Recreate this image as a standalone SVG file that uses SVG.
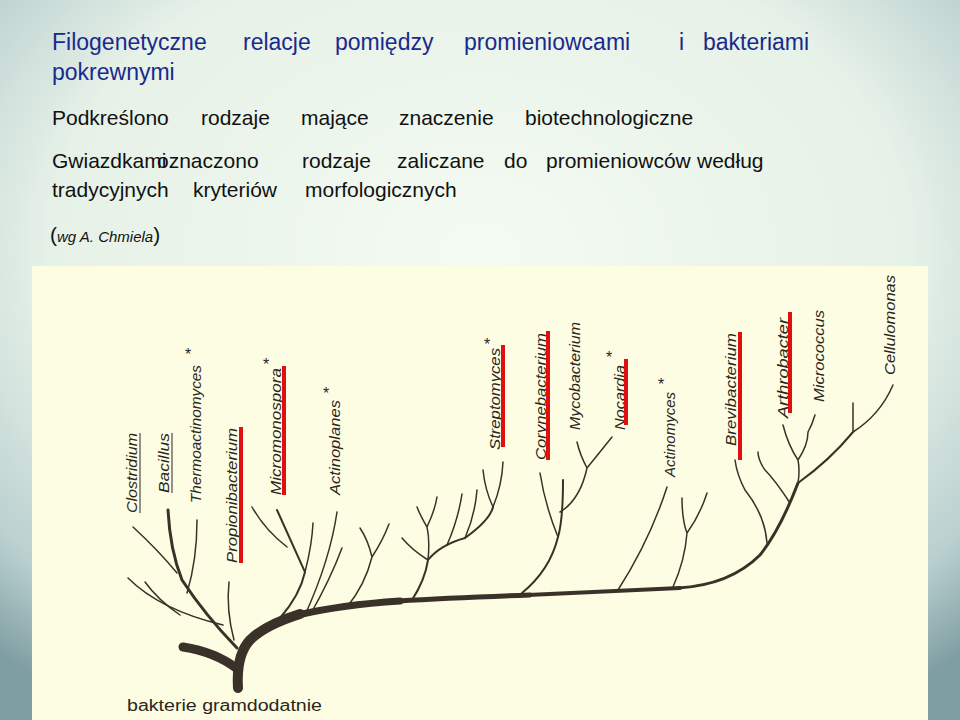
<svg xmlns="http://www.w3.org/2000/svg" width="960" height="720" viewBox="0 0 960 720">
<defs>
<radialGradient id="bg" cx="0.5" cy="0.35" r="0.75">
<stop offset="0" stop-color="#f4fbf2"/><stop offset="0.6" stop-color="#e6f1e8"/><stop offset="0.85" stop-color="#b9cfcf"/><stop offset="1" stop-color="#7f9ea2"/>
</radialGradient>
<style>
.t{font-family:"Liberation Sans",Arial,sans-serif;font-size:21px;fill:#111}
.h{font-family:"Liberation Sans",Arial,sans-serif;font-size:23px;fill:#1a2a8c}
.g{font-family:"Liberation Sans",Arial,sans-serif;font-style:italic;font-size:15px;fill:#2a2620}
.b{fill:none;stroke:#3a3128;stroke-width:1.5;stroke-linecap:round}
.m{fill:none;stroke:#3a3128;stroke-linecap:round}
.r{stroke:#e01010;stroke-width:4}
.u{stroke:#2a2620;stroke-width:1}
.s{font-family:"Liberation Sans",Arial,sans-serif;font-size:16px;fill:#2a2620}
</style>
</defs>
<rect width="960" height="720" fill="url(#bg)"/>
<rect x="32" y="266" width="896" height="454" fill="#fdfde3"/>
<g id="header">
<text class="h" y="50"><tspan x="52">Filogenetyczne</tspan><tspan x="243">relacje</tspan><tspan x="335">pomiędzy</tspan><tspan x="464">promieniowcami</tspan><tspan x="679">i</tspan><tspan x="703">bakteriami</tspan></text>
<text class="h" x="52" y="80">pokrewnymi</text>
<text class="t" y="125"><tspan x="52">Podkreślono</tspan><tspan x="201">rodzaje</tspan><tspan x="301">mające</tspan><tspan x="399">znaczenie</tspan><tspan x="525">biotechnologiczne</tspan></text>
<text class="t" y="168"><tspan x="52">Gwiazdkami</tspan><tspan x="157">oznaczono</tspan><tspan x="302">rodzaje</tspan><tspan x="397">zaliczane</tspan><tspan x="504">do</tspan><tspan x="546">promieniowców</tspan><tspan x="697">według</tspan></text>
<text class="t" y="197"><tspan x="52">tradycyjnych</tspan><tspan x="193">kryteriów</tspan><tspan x="305">morfologicznych</tspan></text>
<text class="t" x="50" y="242" font-size="23">(<tspan font-style="italic" font-size="15">wg A. Chmiela</tspan>)</text>
</g>
<g id="connectors">
<path class="m" stroke-width="9" d="M183 647 Q215 652 236 668"/>
<path class="m" stroke-width="10" d="M238 688 Q236 655 250 640 Q265 625 300 614"/>
<path class="m" stroke-width="7" d="M298 615 Q340 605 400 601"/>
<path class="m" stroke-width="5" d="M398 601 Q450 598 530 595"/>
<path class="m" stroke-width="4" d="M528 595 Q600 592 680 588"/>
<path class="m" stroke-width="3" d="M678 588 Q730 585 760 555 Q780 530 798 483"/>
<path class="m" stroke-width="3" d="M237 648 Q205 615 182 580 Q170 550 168 510"/>
<path class="b" d="M177 573 Q158 550 133 527"/>
<path class="b" d="M187 593 Q197 560 197 520"/>
<path class="b" d="M223 625 Q160 610 128 578"/>
<path class="b" d="M180 615 Q158 600 145 582"/>
<path class="b" d="M234 640 Q226 610 229 582"/>
<path class="m" stroke-width="2" d="M280 618 Q300 595 305 572 Q295 550 277 510"/>
<path class="b" d="M287 547 Q265 530 252 507"/>
<path class="b" d="M305 572 Q312 545 313 523"/>
<path class="b" d="M310 615 Q330 580 342 548"/>
<path class="b" d="M305 615 Q330 560 337 512"/>
<path class="b" d="M347 607 Q365 585 372 557 Q368 540 360 528 M372 557 Q383 540 389 524"/>
<path class="m" stroke-width="2" d="M412 600 Q425 580 428 560 Q440 545 465 538 Q490 520 493 507"/>
<path class="b" d="M428 560 Q412 550 402 538 M428 560 Q430 540 427 527 Q420 515 417 507 M427 527 Q435 510 437 497"/>
<path class="b" d="M447 545 Q458 520 462 494 M465 538 Q475 515 477 490 M493 507 Q485 490 483 470 M493 507 Q502 485 503 462"/>
<path class="m" stroke-width="2" d="M522 593 Q550 570 558 537 Q563 520 563 480"/>
<path class="b" d="M558 537 Q545 505 540 473 M560 512 Q580 500 587 468 Q580 455 577 442 M587 468 Q600 452 612 437"/>
<path class="b" d="M618 590 Q650 540 667 487"/>
<path class="b" d="M673 587 Q685 560 687 533 Q682 520 682 498 M687 533 Q700 515 707 493"/>
<path class="b" d="M767 543 Q765 515 745 490 Q737 475 735 460 M790 503 Q775 480 765 470 Q758 460 758 452"/>
<path class="b" d="M798 483 Q800 470 798 460 Q788 445 783 425 M798 460 Q808 445 808 432 Q812 425 815 415"/>
<path class="m" stroke-width="2" d="M798 483 Q830 460 853 432"/>
<path class="b" d="M853 432 Q853 420 853 403 M853 432 Q880 415 893 385"/>
</g>
<g id="labels">
<g id="clostridium"><text class="g" transform="translate(137 513) rotate(-90)" textLength="80" lengthAdjust="spacingAndGlyphs">Clostridium</text><line class="u" x1="140" y1="513" x2="140" y2="433"/></g>
<g id="bacillus"><text class="g" transform="translate(169 493) rotate(-90)" textLength="60" lengthAdjust="spacingAndGlyphs">Bacillus</text><line class="u" x1="172" y1="493" x2="172" y2="433"/></g>
<g id="thermoactinomyces"><text class="g" transform="translate(201 503) rotate(-90)" textLength="138" lengthAdjust="spacingAndGlyphs">Thermoactinomyces</text><text class="s" x="185" y="360">*</text></g>
<g id="propionibacterium"><text class="g" transform="translate(237 563) rotate(-90)" textLength="135" lengthAdjust="spacingAndGlyphs">Propionibacterium</text><line class="r" x1="241" y1="427" x2="241" y2="563"/></g>
<g id="micromonospora"><text class="g" transform="translate(281 495) rotate(-90)" textLength="127" lengthAdjust="spacingAndGlyphs">Micromonospora</text><line class="r" x1="284" y1="366" x2="284" y2="495"/><text class="s" x="263" y="370">*</text></g>
<g id="actinoplanes"><text class="g" transform="translate(340 495) rotate(-90)" textLength="95" lengthAdjust="spacingAndGlyphs">Actinoplanes</text><text class="s" x="323" y="399">*</text></g>
<g id="streptomyces"><text class="g" transform="translate(500 450) rotate(-90)" textLength="102" lengthAdjust="spacingAndGlyphs">Streptomyces</text><line class="r" x1="503" y1="345" x2="503" y2="447"/><text class="s" x="484" y="350">*</text></g>
<g id="corynebacterium"><text class="g" transform="translate(546 460) rotate(-90)" textLength="127" lengthAdjust="spacingAndGlyphs">Corynebacterium</text><line class="r" x1="548" y1="331" x2="548" y2="460"/></g>
<g id="mycobacterium"><text class="g" transform="translate(580 430) rotate(-90)" textLength="108" lengthAdjust="spacingAndGlyphs">Mycobacterium</text></g>
<g id="nocardia"><text class="g" transform="translate(625 430) rotate(-90)" textLength="65" lengthAdjust="spacingAndGlyphs">Nocardia</text><line class="r" x1="626" y1="359" x2="626" y2="425"/><text class="s" x="606" y="363">*</text></g>
<g id="actinomyces"><text class="g" transform="translate(675 477) rotate(-90)" textLength="85" lengthAdjust="spacingAndGlyphs">Actinomyces</text><text class="s" x="658" y="390">*</text></g>
<g id="brevibacterium"><text class="g" transform="translate(736 446) rotate(-90)" textLength="113" lengthAdjust="spacingAndGlyphs">Brevibacterium</text><line class="r" x1="740" y1="332" x2="740" y2="460"/></g>
<g id="arthrobacter"><text class="g" transform="translate(788 418) rotate(-90)" textLength="100" lengthAdjust="spacingAndGlyphs">Arthrobacter</text><line class="r" x1="790" y1="312" x2="790" y2="413"/></g>
<g id="micrococcus"><text class="g" transform="translate(824 402) rotate(-90)" textLength="92" lengthAdjust="spacingAndGlyphs">Micrococcus</text></g>
<g id="cellulomonas"><text class="g" transform="translate(895 375) rotate(-90)" textLength="100" lengthAdjust="spacingAndGlyphs">Cellulomonas</text></g>
<text class="s" x="127" y="711" textLength="195" lengthAdjust="spacingAndGlyphs">bakterie  gramdodatnie</text>
</g>
</svg>
